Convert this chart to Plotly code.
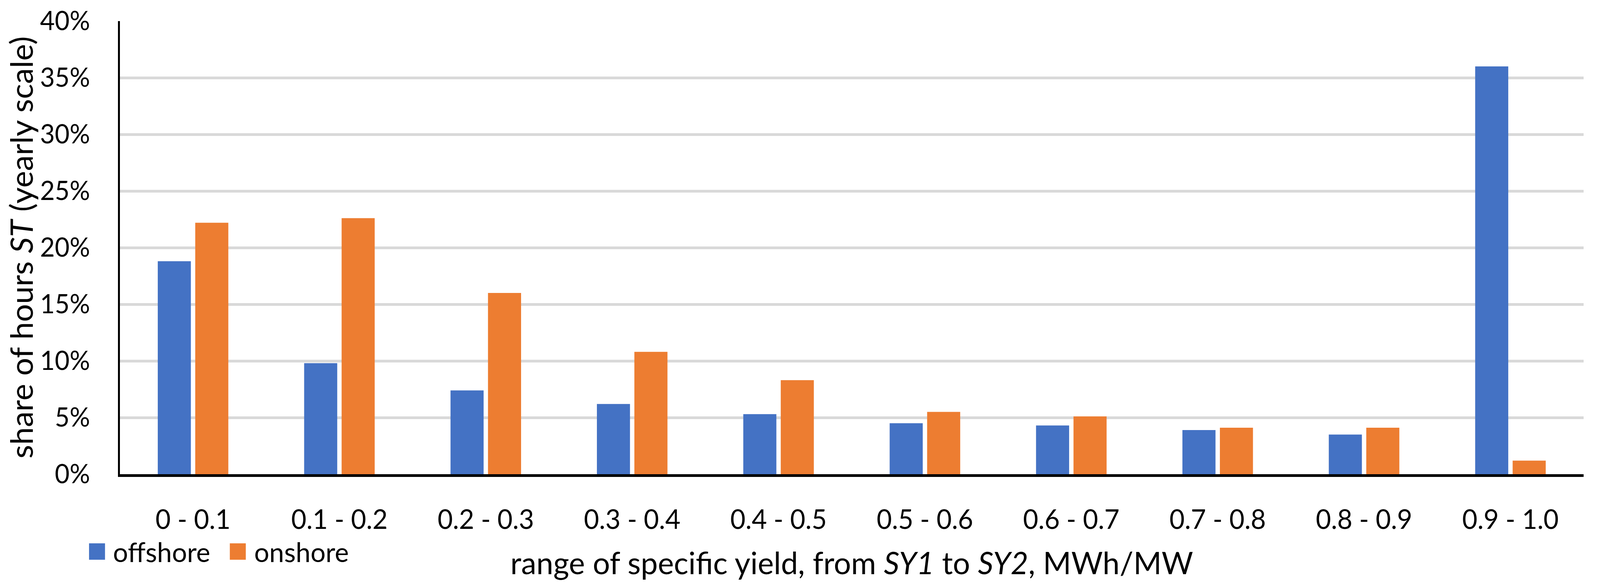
import plotly.graph_objects as go

categories = ["0 - 0.1", "0.1 - 0.2", "0.2 - 0.3", "0.3 - 0.4", "0.4 - 0.5",
              "0.5 - 0.6", "0.6 - 0.7", "0.7 - 0.8", "0.8 - 0.9", "0.9 - 1.0"]
offshore = [0.188, 0.098, 0.074, 0.062, 0.053, 0.045, 0.043, 0.039, 0.035, 0.360]
onshore = [0.222, 0.226, 0.160, 0.108, 0.083, 0.055, 0.051, 0.041, 0.041, 0.012]
series_names = ["offshore", "onshore"]
series_colors = ["#4472C4", "#ED7D31"]
y_ticks = [0, 0.05, 0.10, 0.15, 0.20, 0.25, 0.30, 0.35, 0.40]
x_title = "range of specific yield, from <i>SY1</i> to <i>SY2</i>, MWh/MW"
y_title = "share of hours <i>ST</i> (yearly scale)"

FONT = "Lato"

fig = go.Figure()
for name, vals, col in zip(series_names, [offshore, onshore], series_colors):
    fig.add_trace(go.Bar(x=categories, y=vals, name=name, marker_color=col,
                         marker_line_width=0, showlegend=False))

W, H = 4205, 1490
L, R, T, B = 315, 43, 54, 276
pw, ph = W - L - R, H - T - B

def px_to_paper_x(px):
    return (px - L) / pw

def px_to_paper_y(py):
    return (H - B - py) / ph

fig.update_layout(
    width=W, height=H,
    margin=dict(l=L, r=R, t=T, b=B),
    paper_bgcolor="white", plot_bgcolor="white",
    font=dict(family=FONT, color="black", size=68),
    bargap=0.488, bargroupgap=0.117,
    barmode="group",
)
fig.update_yaxes(
    range=[0, 0.40], tickvals=y_ticks, tickformat=".0%",
    showgrid=True, gridcolor="#D9D9D9", gridwidth=7,
    showline=True, linecolor="black", linewidth=5,
    zeroline=False, ticks="", ticklabelstandoff=60,
    tickfont=dict(size=67, family=FONT),
)
fig.update_xaxes(
    type="category", showgrid=False,
    showline=True, linecolor="black", linewidth=7,
    ticks="", ticklabelstandoff=50,
    tickfont=dict(size=69, family=FONT),
    title=dict(text=x_title, font=dict(size=80, family=FONT), standoff=49),
)

# y-axis title (placed to the left of the tick labels)
fig.add_annotation(xref="paper", yref="paper", x=px_to_paper_x(54), y=0.5,
                   xanchor="center", yanchor="middle", textangle=-90,
                   text=y_title, showarrow=False, borderpad=0,
                   font=dict(size=81, family=FONT, color="black"))

# legend (drawn as colored squares + labels)
legend_items = [(234, 295), (604, 666)]
for (sq_x, tx_x), name, col in zip(legend_items, series_names, series_colors):
    fig.add_shape(type="rect", xref="paper", yref="paper",
                  x0=px_to_paper_x(sq_x), x1=px_to_paper_x(sq_x + 42),
                  y0=px_to_paper_y(1391), y1=px_to_paper_y(1433),
                  fillcolor=col, line_width=0)
    fig.add_annotation(xref="paper", yref="paper", x=px_to_paper_x(tx_x),
                       y=px_to_paper_y(1412), xanchor="left", yanchor="middle",
                       text=name, showarrow=False,
                       font=dict(size=70, family=FONT, color="black"))

post = (
    "document.documentElement.style.margin='0';"
    "document.body.style.margin='0';"
    "document.body.style.overflow='hidden';"
    "document.documentElement.style.overflow='hidden';"
    "var gd=document.getElementById('{plot_id}');"
    "var sx=window.innerWidth/%d, sy=window.innerHeight/%d;"
    "gd.style.transformOrigin='0 0';"
    "gd.style.transform='scale('+sx+','+sy+')';" % (W, H)
)

fig.write_html("out.html", config={"displayModeBar": False}, post_script=post)
